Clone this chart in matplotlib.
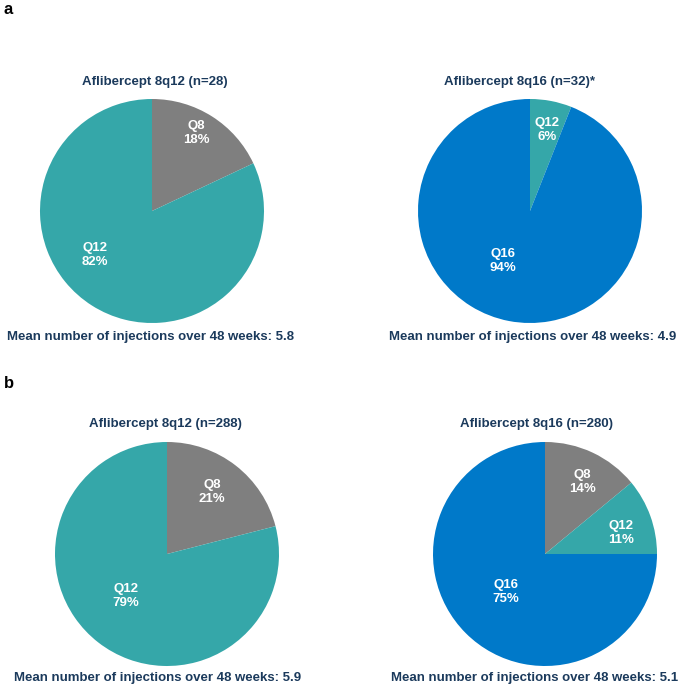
import matplotlib
matplotlib.use("Agg")
import matplotlib.pyplot as plt

plt.rcParams['font.family'] = ['Liberation Sans', 'DejaVu Sans']

W, H = 678, 687
DPI = 100

# ---- data ----
titles = ["Aflibercept 8q12 (n=28)", "Aflibercept 8q16 (n=32)*",
          "Aflibercept 8q12 (n=288)", "Aflibercept 8q16 (n=280)"]
categories = [["Q8", "Q12"], ["Q12", "Q16"], ["Q8", "Q12"], ["Q8", "Q12", "Q16"]]
values = [[18, 82], [6, 94], [21, 79], [14, 11, 75]]
mean_injections = [5.8, 4.9, 5.9, 5.1]
panel_letters = ["a", "b"]

COL = {"Q8": "#7F7F7F", "Q12": "#35A7A9", "Q16": "#0079C9"}
NAVY = "#1B3A5C"

# ---- layout (pixels) ----
centers = [(152, 211), (530, 211), (167, 554), (545, 554)]
R = 112
title_pos = [(155, 82), (519, 82), (165, 424), (536, 424)]
mean_pos = [(7, 337), (389, 337), (14, 678), (391, 678)]
label_pos = [
    [(196, 133), (95, 255)],
    [(547, 130), (503, 261)],
    [(212, 492), (126, 596)],
    [(582, 482), (621, 533), (506, 592)],
]
letter_pos = [(4, 9), (4, 384)]

fig = plt.figure(figsize=(W / DPI, H / DPI), dpi=DPI)
fig.patch.set_facecolor("white")

FS = 9.5

for i in range(4):
    cx, cy = centers[i]
    ax = fig.add_axes([(cx - R) / W, 1 - (cy + R) / H, 2 * R / W, 2 * R / H])
    ax.pie(values[i], colors=[COL[c] for c in categories[i]], startangle=90,
           counterclock=False, radius=1, wedgeprops=dict(linewidth=0))
    ax.set_xlim(-1, 1)
    ax.set_ylim(-1, 1)
    ax.set_aspect('equal')
    ax.axis('off')
    for cat, val, (lx, ly) in zip(categories[i], values[i], label_pos[i]):
        ax.text((lx - cx) / R, -(ly - cy) / R, f"{cat}\n{val}%", ha='center', va='center',
                color='white', fontsize=FS, fontweight='bold', linespacing=1.2)
    tx, ty = title_pos[i]
    fig.text(tx / W, 1 - ty / H, titles[i], ha='center', va='center',
             color=NAVY, fontsize=FS, fontweight='bold')
    mx, my = mean_pos[i]
    fig.text(mx / W, 1 - my / H, f"Mean number of injections over 48 weeks: {mean_injections[i]}",
             ha='left', va='center', color=NAVY, fontsize=FS, fontweight='bold')

for letter, (px, py) in zip(panel_letters, letter_pos):
    fig.text(px / W, 1 - py / H, letter, ha='left', va='center', color='black',
             fontsize=12, fontweight='bold')

fig.savefig("out.png", dpi=DPI, facecolor="white")
